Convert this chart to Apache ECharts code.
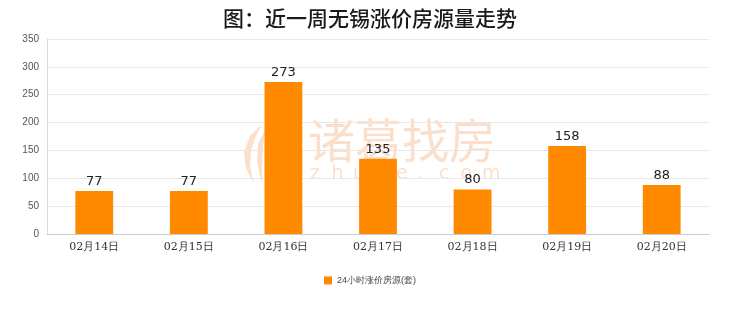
<!DOCTYPE html>
<html><head><meta charset="utf-8">
<script src="https://cdn.jsdelivr.net/npm/echarts@6/dist/echarts.min.js"></script>
<style>html,body{margin:0;padding:0;background:#fff}#c{width:740px;height:312px}</style>
</head><body><div id="c"></div>
<script>
var categories = ['02月14日','02月15日','02月16日','02月17日','02月18日','02月19日','02月20日'];
var values = [77, 77, 273, 135, 80, 158, 88];
var seriesName = '24小时涨价房源(套)';
var titleText = '图：近一周无锡涨价房源量走势';

var wmColor = 'rgba(242,150,80,0.3)';
var wmSub = 'zhuge.com'.split('');
var graphics = [
  {type: 'text', left: 308, top: 117, z: 0, style: {text: '诸葛找房', fontSize: 47, fill: wmColor, fontFamily: 'Noto Sans CJK SC'}},
  {type: 'polygon', z: 0, shape: {points: [[262,124],[250,136],[244,152],[246,168],[254,184],[250,166],[251,150],[256,136]]}, style: {fill: wmColor}},
  {type: 'polygon', z: 0, shape: {points: [[266,128],[258,144],[257,162],[262,184],[262,164],[263,146]]}, style: {fill: wmColor}},
  {type: 'polygon', z: 0, shape: {points: [[270,136],[266,152],[267,168],[271,180],[273,164],[272,150]]}, style: {fill: wmColor}}
];
wmSub.forEach(function (ch, i) {
  graphics.push({type: 'text', left: 310 + i * 21.5, top: 165, z: 0,
    style: {text: ch, fontSize: 19, fill: wmColor, fontFamily: 'DejaVu Sans'}});
});

var chart = echarts.init(document.getElementById('c'));
chart.setOption({
  animation: false,
  title: {text: titleText, left: 'center', top: 3,
    textStyle: {fontSize: 21, fontWeight: 500, color: '#1a1a1a', fontFamily: 'Noto Sans CJK SC'}},
  graphic: graphics,
  grid: {left: 47, right: 31, top: 39, bottom: 78},
  legend: {bottom: 22, left: 'center', itemWidth: 8, itemHeight: 8, icon: 'rect',
    textStyle: {fontSize: 9, color: '#444'}, data: [seriesName]},
  xAxis: {type: 'category', data: categories,
    axisLine: {lineStyle: {color: '#ccc'}}, axisTick: {show: false},
    axisLabel: {fontSize: 11, color: '#333', margin: 8, fontFamily: 'DejaVu Serif'}},
  yAxis: {type: 'value', min: 0, max: 350, interval: 50,
    axisLine: {show: true, lineStyle: {color: '#ddd'}}, axisTick: {show: false},
    splitLine: {lineStyle: {color: '#e8e8e8'}},
    axisLabel: {fontSize: 10, color: '#555', margin: 8}},
  series: [{name: seriesName, type: 'bar', data: values, barWidth: '40%', z: 5,
    itemStyle: {color: '#ff8a00'},
    label: {show: true, position: 'top', fontSize: 13, color: '#222', distance: 3, fontFamily: 'DejaVu Sans'}}]
});
</script></body></html>
